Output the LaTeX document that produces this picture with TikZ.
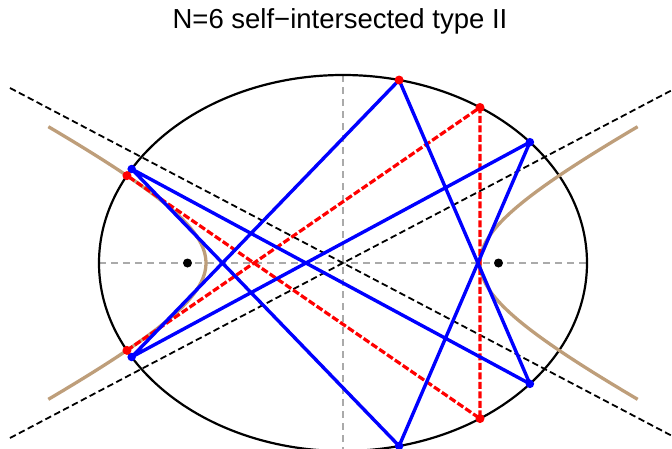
\documentclass[tikz,border=0pt]{standalone}
\usepackage{fontspec}
\setsansfont{Liberation Sans}
\usepackage{tikz}
\usetikzlibrary{calc}
\definecolor{elblue}{RGB}{0,0,255}
\definecolor{elred}{RGB}{255,0,0}
\definecolor{elgray}{RGB}{170,170,170}
\definecolor{eltan}{RGB}{190,158,122}

\begin{document}
\begin{tikzpicture}[
  x=1pt, y=1pt,
  every node/.style={font=\sffamily},
  axis/.style={draw=elgray, line width=1.4pt, dash pattern=on 7pt off 5pt},
  conic/.style={draw=black, line width=2.2pt},
  hyp/.style={draw=eltan, line width=3.3pt},
  asym/.style={draw=black, line width=1.8pt, dash pattern=on 6.5pt off 3.5pt},
  orbit/.style={draw=elblue, line width=3.4pt, line join=round},
  chord/.style={draw=elred, line width=3.2pt, dash pattern=on 7pt off 2.5pt},
  bdot/.style={circle, fill=elblue, inner sep=0pt, minimum size=8.5pt},
  rdot/.style={circle, fill=elred, inner sep=0pt, minimum size=9pt},
  fdot/.style={circle, fill=black, inner sep=0pt, minimum size=9pt}
]
  \useasboundingbox (-343,-185) rectangle (329,263);
  \clip (-343,-185) rectangle (329,263);

  \node[font=\sffamily\fontsize{27.5}{31}\selectfont] (title) at (-3,242) {N=6 self\textminus intersected type II};

  \coordinate (xl) at (-244,0);
  \coordinate (xr) at (244,0);
  \coordinate (yt) at (0,188);
  \coordinate (yb) at (0,-188);
  \draw[axis] (xl) -- (xr);
  \draw[axis] (yt) -- (yb);

  \draw[conic] (0,0) ellipse [x radius=244, y radius=188];
  \draw[hyp] plot[domain=-1.4:1.4, samples=60, smooth] ({137*cosh(\x)}, {71.6*sinh(\x)});
  \draw[hyp] plot[domain=-1.4:1.4, samples=60, smooth] ({-137*cosh(\x)}, {71.6*sinh(\x)});

  \coordinate (aul) at (-333,175);
  \coordinate (alr) at (333,-175);
  \coordinate (all) at (-333,-175);
  \coordinate (aur) at (333,175);
  \draw[asym] (aul) -- (alr);
  \draw[asym] (all) -- (aur);

  \coordinate (r1) at (55.84:244 and 188);
  \coordinate (r2) at (-55.84:244 and 188);
  \coordinate (r3) at (152.3:244 and 188);
  \coordinate (r4) at (-152.3:244 and 188);
  \draw[chord] (r4) -- (r1) -- (r2) -- (r3);

  \coordinate (b1) at (76.7:244 and 188);
  \coordinate (b2) at (40:244 and 188);
  \coordinate (b3) at (150:244 and 188);
  \coordinate (b4) at (-150:244 and 188);
  \coordinate (b5) at (-40:244 and 188);
  \coordinate (b6) at (-76.7:244 and 188);
  \draw[orbit] (b1) -- (b5) -- (b3) -- (b6) -- (b2) -- (b4) -- cycle;

  \node[fdot] (f1) at (-155.5,0) {};
  \node[fdot] (f2) at (155.5,0) {};

  \foreach \p in {b2,b3,b4,b5,b6}
    \node[bdot] at (\p) {};
  \foreach \p in {b1,r1,r2,r3,r4}
    \node[rdot] at (\p) {};
\end{tikzpicture}
\end{document}
